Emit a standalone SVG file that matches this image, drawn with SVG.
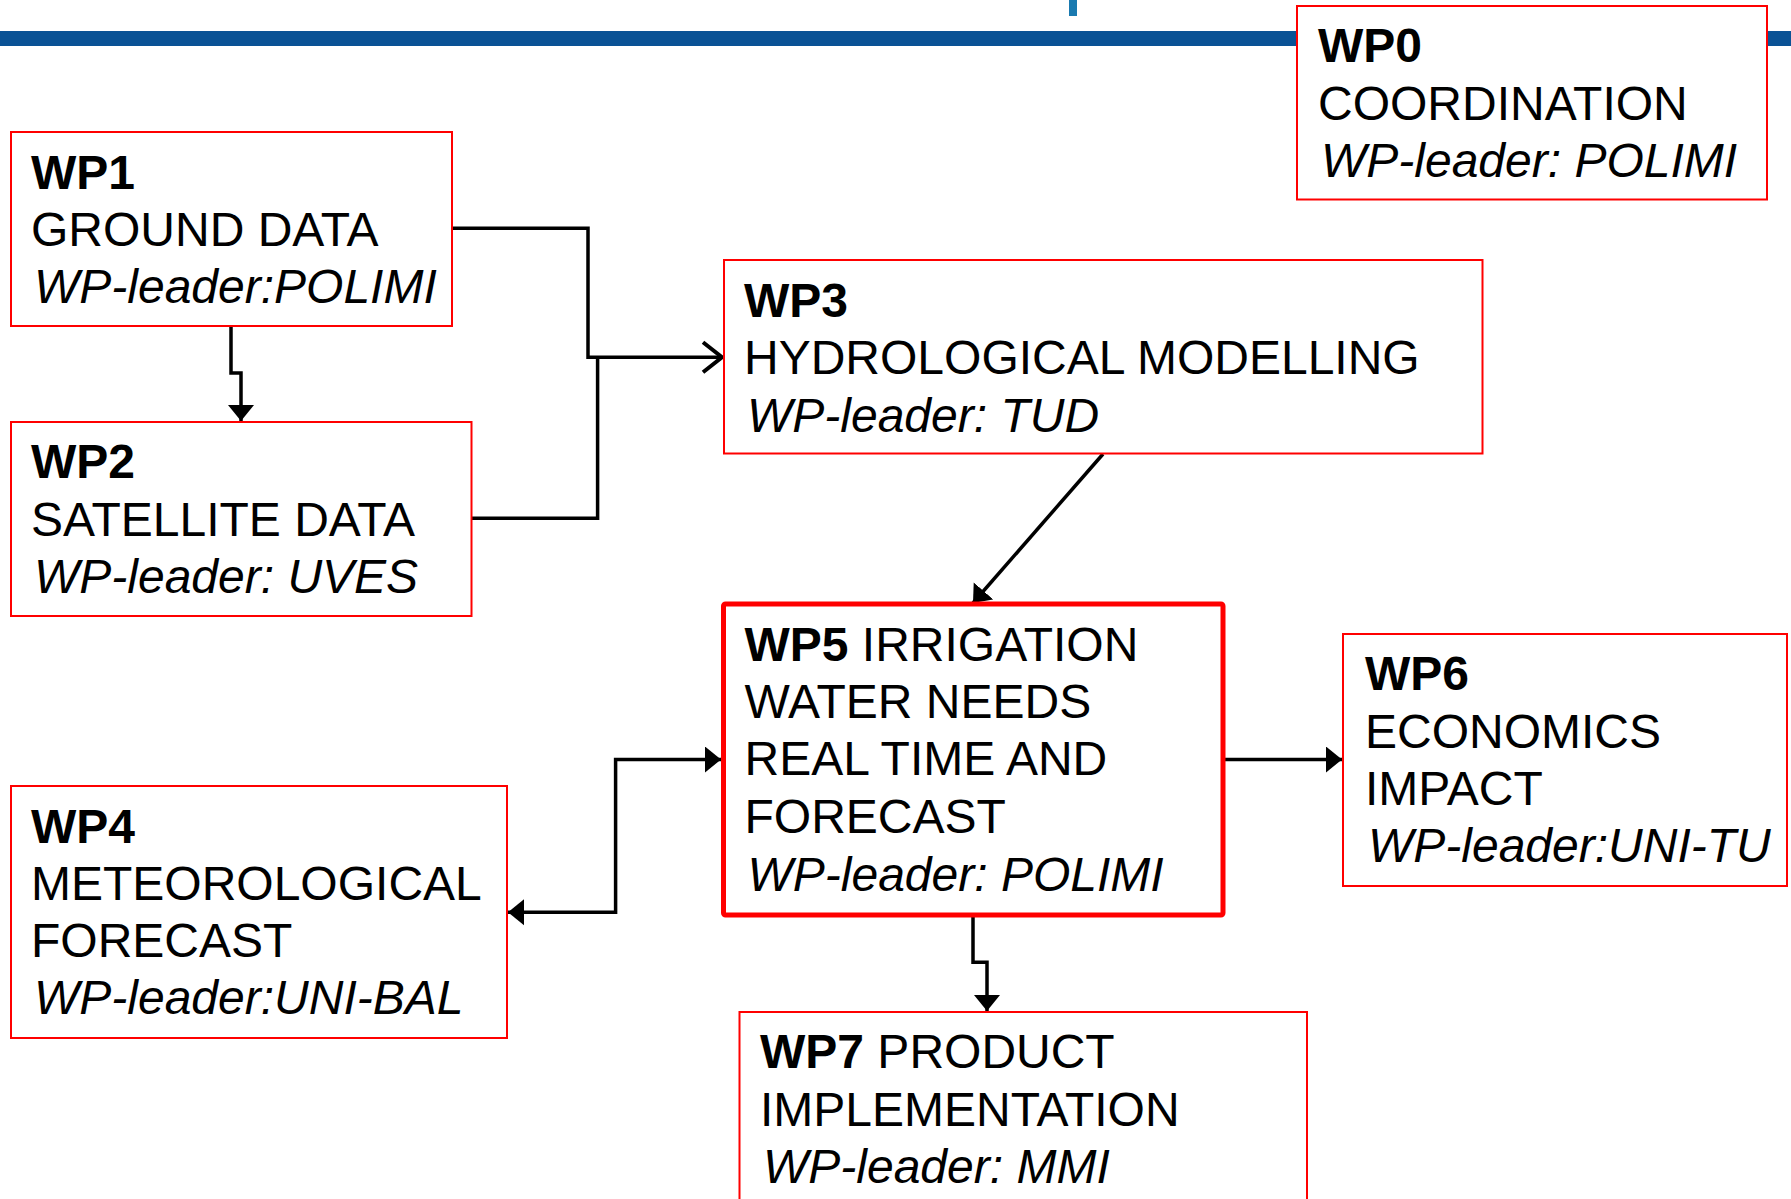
<svg xmlns="http://www.w3.org/2000/svg" width="1791" height="1199" viewBox="0 0 1791 1199">
<defs>
<style>
.box{fill:#fff;stroke:#ff0000;stroke-width:2}
.main{fill:#fff;stroke:#ff0000;stroke-width:5}
text{font-family:"Liberation Sans",Arial,sans-serif;font-size:48px;fill:#000}
.b{font-weight:bold}
.i{font-style:italic}
.c{fill:none;stroke:#000;stroke-width:3.5}
</style>
<marker id="tri" markerUnits="userSpaceOnUse" markerWidth="20" markerHeight="30" refX="16" refY="13" orient="auto">
<path d="M0,0 L16,13 L0,26 Z" fill="#000"/>
</marker>
<marker id="triS" markerUnits="userSpaceOnUse" markerWidth="20" markerHeight="30" refX="0" refY="13" orient="auto">
<path d="M16,0 L0,13 L16,26 Z" fill="#000"/>
</marker>
<marker id="chev" markerUnits="userSpaceOnUse" markerWidth="26" markerHeight="36" refX="21" refY="17" orient="auto">
<path d="M2,2 L21,17 L2,32" fill="none" stroke="#000" stroke-width="4"/>
</marker>
</defs>
<rect width="1791" height="1199" fill="#fff"/>
<rect x="0" y="31" width="1791" height="15" fill="#0a5295"/>
<rect x="1069" y="0" width="8" height="16" fill="#1a7ab0"/>
<g id="connectors">
<path class="c" d="M231,326 V373 H241 V421" marker-end="url(#tri)"/>
<path class="c" d="M452,228.3 H588 V357.3 H722" marker-end="url(#chev)"/>
<path class="c" d="M471.6,518.3 H597.6 V357.3"/>
<path class="c" d="M1103,454 L973,603" marker-end="url(#tri)"/>
<path class="c" d="M1225,759.5 H1342" marker-end="url(#tri)"/>
<path class="c" d="M508,912.3 H615.6 V759.5 H721" marker-start="url(#triS)" marker-end="url(#tri)"/>
<path class="c" d="M973,917 V962.3 H987 V1011" marker-end="url(#tri)"/>
</g>
<g id="wp0">
<rect class="box" x="1297" y="6" width="470" height="193.5"/>
<text x="1318" y="62" class="b">WP0</text>
<text x="1318" y="120">COORDINATION</text>
<text x="1321" y="177" class="i">WP-leader: POLIMI</text>
</g>
<g id="wp1">
<rect class="box" x="11" y="132" width="441" height="194"/>
<text x="31" y="189" class="b">WP1</text>
<text x="31" y="246">GROUND DATA</text>
<text x="34" y="303" class="i">WP-leader:POLIMI</text>
</g>
<g id="wp2">
<rect class="box" x="11" y="422" width="460.5" height="194"/>
<text x="31" y="478" class="b">WP2</text>
<text x="31" y="535.5">SATELLITE DATA</text>
<text x="34" y="593" class="i">WP-leader: UVES</text>
</g>
<g id="wp3">
<rect class="box" x="724" y="260" width="758.5" height="193.5"/>
<text x="744" y="316.5" class="b">WP3</text>
<text x="744" y="374">HYDROLOGICAL MODELLING</text>
<text x="747" y="431.5" class="i">WP-leader: TUD</text>
</g>
<g id="wp4">
<rect class="box" x="11" y="786" width="496" height="252"/>
<text x="31" y="842.5" class="b">WP4</text>
<text x="31" y="899.5">METEOROLOGICAL</text>
<text x="31" y="957">FORECAST</text>
<text x="34" y="1014" class="i">WP-leader:UNI-BAL</text>
</g>
<g id="wp5">
<rect class="main" x="723.5" y="604" width="499.5" height="311" rx="2"/>
<text x="744.5" y="660.5"><tspan class="b">WP5</tspan> IRRIGATION</text>
<text x="744.5" y="717.5">WATER NEEDS</text>
<text x="744.5" y="775">REAL TIME AND</text>
<text x="744.5" y="833">FORECAST</text>
<text x="747.5" y="890.5" class="i">WP-leader: POLIMI</text>
</g>
<g id="wp6">
<rect class="box" x="1343" y="634" width="444" height="252"/>
<text x="1365" y="690" class="b">WP6</text>
<text x="1365" y="747.5">ECONOMICS</text>
<text x="1365" y="805">IMPACT</text>
<text x="1368" y="862" class="i">WP-leader:UNI-TU</text>
</g>
<g id="wp7">
<rect class="box" x="739.5" y="1012" width="567.5" height="200"/>
<text x="760" y="1068" class="b">WP7 <tspan style="font-weight:normal">PRODUCT</tspan></text>
<text x="760" y="1125.5">IMPLEMENTATION</text>
<text x="763" y="1183" class="i">WP-leader: MMI</text>
</g>
</svg>
